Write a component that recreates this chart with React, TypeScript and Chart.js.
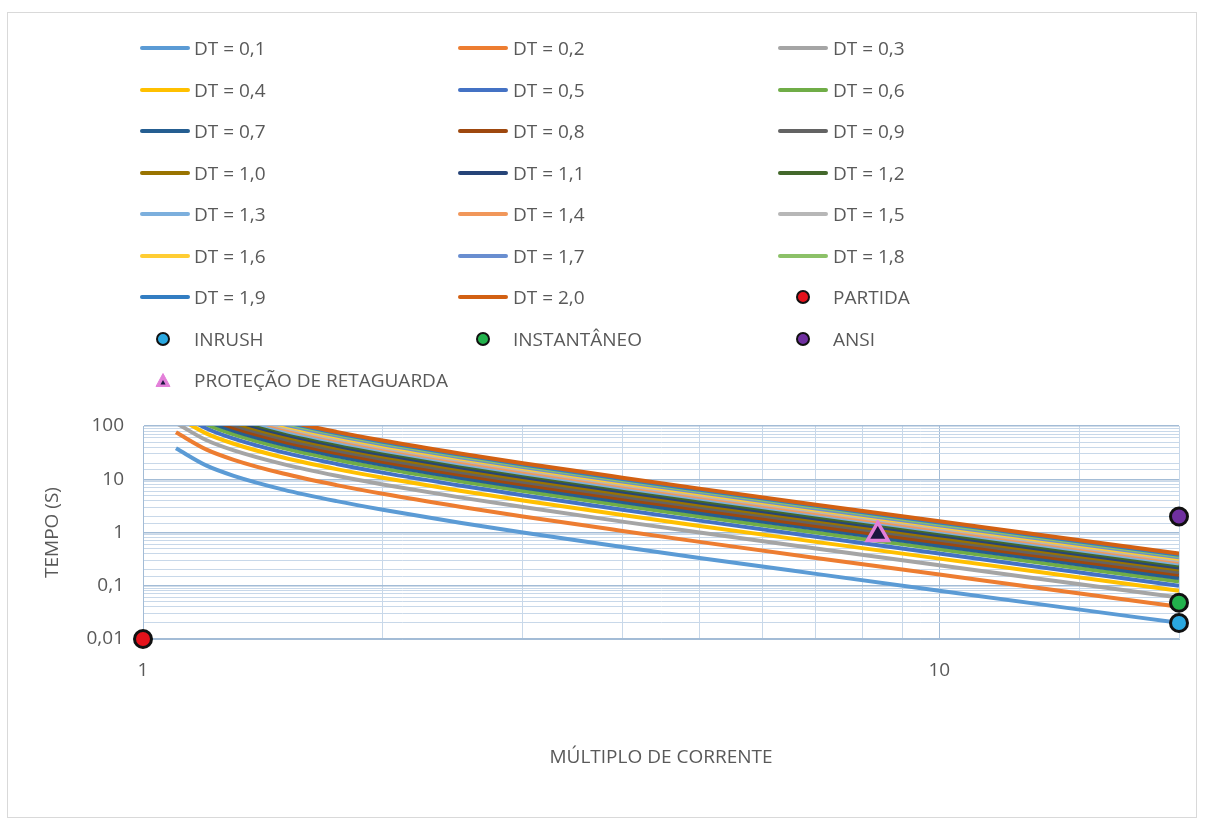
import React, { useEffect, useRef } from 'react';
import { Chart, registerables } from 'chart.js';

Chart.register(...registerables);

// Current multiples (x) shared by all DT curves
const multiples = [1.1, 1.2, 1.3, 1.5, 1.75, 2, 2.5, 3, 4, 5, 7, 10, 14, 20];

const dtLabels = [
  'DT = 0,1', 'DT = 0,2', 'DT = 0,3', 'DT = 0,4', 'DT = 0,5', 'DT = 0,6', 'DT = 0,7',
  'DT = 0,8', 'DT = 0,9', 'DT = 1,0', 'DT = 1,1', 'DT = 1,2', 'DT = 1,3', 'DT = 1,4',
  'DT = 1,5', 'DT = 1,6', 'DT = 1,7', 'DT = 1,8', 'DT = 1,9', 'DT = 2,0',
];

const dt01 = [38.1, 18.2, 11.6, 6.4, 3.88, 2.67, 1.52, 1.0, 0.533, 0.333, 0.167, 0.0808, 0.041, 0.0201];
const dt02 = [76.2, 36.4, 23.2, 12.8, 7.76, 5.33, 3.05, 2.0, 1.07, 0.667, 0.333, 0.162, 0.0821, 0.0401];
const dt03 = [114, 54.5, 34.8, 19.2, 11.6, 8.0, 4.57, 3.0, 1.6, 1.0, 0.5, 0.242, 0.123, 0.0602];
const dt04 = [152, 72.7, 46.4, 25.6, 15.5, 10.7, 6.1, 4.0, 2.13, 1.33, 0.667, 0.323, 0.164, 0.0802];
const dt05 = [190, 90.9, 58.0, 32.0, 19.4, 13.3, 7.62, 5.0, 2.67, 1.67, 0.833, 0.404, 0.205, 0.1];
const dt06 = [229, 109, 69.6, 38.4, 23.3, 16.0, 9.14, 6.0, 3.2, 2.0, 1.0, 0.485, 0.246, 0.12];
const dt07 = [267, 127, 81.2, 44.8, 27.2, 18.7, 10.7, 7.0, 3.73, 2.33, 1.17, 0.566, 0.287, 0.14];
const dt08 = [305, 145, 92.8, 51.2, 31.0, 21.3, 12.2, 8.0, 4.27, 2.67, 1.33, 0.646, 0.328, 0.16];
const dt09 = [343, 164, 104, 57.6, 34.9, 24.0, 13.7, 9.0, 4.8, 3.0, 1.5, 0.727, 0.369, 0.18];
const dt10 = [381, 182, 116, 64.0, 38.8, 26.7, 15.2, 10.0, 5.33, 3.33, 1.67, 0.808, 0.41, 0.201];
const dt11 = [419, 200, 128, 70.4, 42.7, 29.3, 16.8, 11.0, 5.87, 3.67, 1.83, 0.889, 0.451, 0.221];
const dt12 = [457, 218, 139, 76.8, 46.5, 32.0, 18.3, 12.0, 6.4, 4.0, 2.0, 0.97, 0.492, 0.241];
const dt13 = [495, 236, 151, 83.2, 50.4, 34.7, 19.8, 13.0, 6.93, 4.33, 2.17, 1.05, 0.533, 0.261];
const dt14 = [533, 255, 162, 89.6, 54.3, 37.3, 21.3, 14.0, 7.47, 4.67, 2.33, 1.13, 0.574, 0.281];
const dt15 = [571, 273, 174, 96.0, 58.2, 40.0, 22.9, 15.0, 8.0, 5.0, 2.5, 1.21, 0.615, 0.301];
const dt16 = [610, 291, 186, 102, 62.1, 42.7, 24.4, 16.0, 8.53, 5.33, 2.67, 1.29, 0.656, 0.321];
const dt17 = [648, 309, 197, 109, 65.9, 45.3, 25.9, 17.0, 9.07, 5.67, 2.83, 1.37, 0.697, 0.341];
const dt18 = [686, 327, 209, 115, 69.8, 48.0, 27.4, 18.0, 9.6, 6.0, 3.0, 1.45, 0.738, 0.361];
const dt19 = [724, 345, 220, 122, 73.7, 50.7, 29.0, 19.0, 10.1, 6.33, 3.17, 1.54, 0.779, 0.381];
const dt20 = [762, 364, 232, 128, 77.6, 53.3, 30.5, 20.0, 10.7, 6.67, 3.33, 1.62, 0.821, 0.401];

const curveSeries = [dt01, dt02, dt03, dt04, dt05, dt06, dt07, dt08, dt09, dt10,
  dt11, dt12, dt13, dt14, dt15, dt16, dt17, dt18, dt19, dt20];

const curveColors = [
  '#5B9BD5', '#ED7D31', '#A5A5A5', '#FFC000', '#4472C4', '#70AD47', '#255E91',
  '#9E480E', '#636363', '#997300', '#264478', '#43682B', '#7CAFDD', '#F1975A',
  '#B7B7B7', '#FFCD33', '#698ED0', '#8CC168', '#327DC2', '#D26012',
];

// Single-point series
const partidaX = [1];
const partidaY = [0.01];
const inrushX = [20];
const inrushY = [0.02];
const instantaneoX = [20];
const instantaneoY = [0.048];
const ansiX = [20];
const ansiY = [2];
const retaguardaX = [8.37];
const retaguardaY = [0.92];

const yTickLabels = ['0,01', '0,1', '1', '10', '100'];
const yTickValues = [0.01, 0.1, 1, 10, 100];
const xTickLabels = ['1', '10'];
const xTickValues = [1, 10];

const TEXT = '#595959';
const FONT = "'Open Sans', 'Noto Sans', sans-serif";
const GRID_MAJOR = '#A3BCD6';
const GRID_MINOR = '#C8D8E9';

type LegendEntry = { label: string; kind: 'line' | 'circle' | 'triangle'; color: string };

const legendEntries: LegendEntry[] = [
  ...dtLabels.map((l, i) => ({ label: l, kind: 'line' as const, color: curveColors[i] })),
  { label: 'PARTIDA', kind: 'circle', color: '#E5121B' },
  { label: 'INRUSH', kind: 'circle', color: '#2AA8E0' },
  { label: 'INSTANTÂNEO', kind: 'circle', color: '#22B24C' },
  { label: 'ANSI', kind: 'circle', color: '#7030A0' },
  { label: 'PROTEÇÃO DE RETAGUARDA', kind: 'triangle', color: '#E37FD9' },
];

const isPow10 = (v: number) => {
  const l = Math.log10(v);
  return Math.abs(l - Math.round(l)) < 1e-6;
};

export default function App() {
  const canvasRef = useRef<HTMLCanvasElement | null>(null);

  useEffect(() => {
    if (!canvasRef.current) return;
    const lineSets = curveSeries.map((vals, i) => ({
      type: 'line' as const,
      label: dtLabels[i],
      data: multiples.map((m, j) => ({ x: m, y: vals[j] })),
      borderColor: curveColors[i],
      backgroundColor: curveColors[i],
      borderWidth: 4,
      pointRadius: 0,
      pointHoverRadius: 0,
      cubicInterpolationMode: 'monotone' as const,
      clip: 0,
      order: 100 - i,
      fill: false,
    }));
    const pointSet = (label: string, xs: number[], ys: number[], color: string, order: number) => ({
      type: 'line' as const,
      label,
      data: xs.map((x, k) => ({ x, y: ys[k] })),
      showLine: false,
      pointRadius: 8.5,
      pointBorderWidth: 3,
      pointBackgroundColor: color,
      pointBorderColor: '#111111',
      borderColor: '#111111',
      backgroundColor: color,
      clip: false as const,
      order,
    });
    const chart = new Chart(canvasRef.current, {
      type: 'line',
      data: {
        datasets: [
          ...lineSets,
          pointSet('PARTIDA', partidaX, partidaY, '#E5121B', 5),
          pointSet('INRUSH', inrushX, inrushY, '#2AA8E0', 4),
          pointSet('INSTANTÂNEO', instantaneoX, instantaneoY, '#22B24C', 3),
          pointSet('ANSI', ansiX, ansiY, '#7030A0', 2),
          {
            type: 'line' as const,
            label: 'PROTEÇÃO DE RETAGUARDA',
            data: retaguardaX.map((x, k) => ({ x, y: retaguardaY[k] })),
            showLine: false,
            pointStyle: 'triangle',
            pointRadius: 12,
            pointBorderWidth: 3.5,
            pointBackgroundColor: '#1B1640',
            pointBorderColor: '#E37FD9',
            clip: false as const,
            order: 1,
          },
        ] as any,
      },
      options: {
        responsive: false,
        animation: false,
        events: [],
        layout: { padding: { left: 0, right: 26, top: 426, bottom: 41 } },
        elements: { line: { capBezierPoints: false } },
        plugins: { legend: { display: false }, tooltip: { enabled: false } },
        scales: {
          x: {
            type: 'logarithmic',
            min: 1,
            max: 20,
            grid: {
              drawTicks: false,
              color: (c: any) => (c.tick && isPow10(c.tick.value) ? GRID_MAJOR : GRID_MINOR),
              lineWidth: 1,
            },
            border: { display: true, color: GRID_MAJOR },
            ticks: {
              autoSkip: false,
              maxRotation: 0,
              padding: 20,
              color: TEXT,
              font: { family: FONT, size: 19 },
              callback: (v: any) => {
                const idx = xTickValues.findIndex((t) => Math.abs(t - Number(v)) < 1e-9);
                return idx >= 0 ? xTickLabels[idx] : '';
              },
            },
            title: {
              display: true,
              text: 'MÚLTIPLO DE CORRENTE',
              color: TEXT,
              font: { family: FONT, size: 19 },
              padding: { top: 0, bottom: 10 },
            },
            afterFit: (s: any) => { s.height = 140; },
          },
          y: {
            type: 'logarithmic',
            min: 0.01,
            max: 100,
            grid: {
              drawTicks: false,
              color: (c: any) => (c.tick && isPow10(c.tick.value) ? GRID_MAJOR : GRID_MINOR),
              lineWidth: (c: any) => (c.tick && isPow10(c.tick.value) ? 1.5 : 1),
            },
            border: { display: true, color: GRID_MAJOR },
            ticks: {
              autoSkip: false,
              padding: 19,
              color: TEXT,
              font: { family: FONT, size: 19 },
              callback: (v: any) => {
                const idx = yTickValues.findIndex((t) => Math.abs(Math.log10(t) - Math.log10(Number(v))) < 1e-6);
                return idx >= 0 ? yTickLabels[idx] : '';
              },
            },
            title: {
              display: true,
              text: 'TEMPO (S)',
              color: TEXT,
              font: { family: FONT, size: 19 },
              padding: { top: 41, bottom: 0 },
            },
            afterFit: (s: any) => { s.width = 143; },
          },
        },
      } as any,
    });
    return () => chart.destroy();
  }, []);

  const rowY0 = 48;
  const rowStep = 41.5;
  const lineX = [140, 458, 778];
  const markerX = [163, 483, 803];
  const textX = [194, 513, 833];

  return (
    <div style={{ position: 'absolute', left: 0, top: 0, width: 1205, height: 820, background: '#fff', overflow: 'hidden' }}>
      <div style={{ position: 'absolute', left: 7, top: 12, width: 1190, height: 806, border: '1px solid #D9D9D9', boxSizing: 'border-box' }} />
      <canvas ref={canvasRef} width={1205} height={820} style={{ position: 'absolute', left: 0, top: 0, width: 1205, height: 820 }} />
      {legendEntries.map((e, i) => {
        const col = i % 3;
        const row = Math.floor(i / 3);
        const cy = rowY0 + row * rowStep;
        return (
          <React.Fragment key={i}>
            {e.kind === 'line' && (
              <div style={{ position: 'absolute', left: lineX[col], top: cy - 2, width: 50, height: 4, borderRadius: 2, background: e.color }} />
            )}
            {e.kind === 'circle' && (
              <div style={{ position: 'absolute', left: markerX[col] - 7, top: cy - 7, width: 14, height: 14, borderRadius: '50%', background: e.color, border: '2px solid #111', boxSizing: 'border-box' }} />
            )}
            {e.kind === 'triangle' && (
              <svg style={{ position: 'absolute', left: markerX[col] - 8, top: cy - 8 }} width={16} height={16} viewBox="0 0 16 16">
                <polygon points="8,1.5 15,14.5 1,14.5" fill={e.color} stroke={e.color} strokeWidth={1} />
                <polygon points="8,8 10.5,12.5 5.5,12.5" fill="#1B1640" />
              </svg>
            )}
            <div style={{ position: 'absolute', left: textX[col], top: cy - 15, height: 30, lineHeight: '30px', fontFamily: FONT, fontSize: 19, color: TEXT, whiteSpace: 'nowrap' }}>
              {e.label}
            </div>
          </React.Fragment>
        );
      })}
    </div>
  );
}
